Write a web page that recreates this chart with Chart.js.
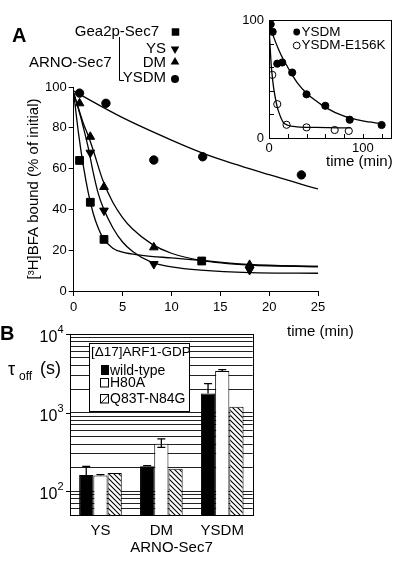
<!DOCTYPE html>
<html>
<head>
<meta charset="utf-8">
<script src="https://cdn.jsdelivr.net/npm/chart.js@4.4.0/dist/chart.umd.min.js"></script>
<style>
  html, body { margin: 0; padding: 0; background: #fff; }
  body { width: 400px; height: 562px; position: relative; overflow: hidden; }
  canvas { position: absolute; }
  #mainA { left: 0; top: 0; }
  #inset { left: 230px; top: 0; }
  #panelB { left: 0; top: 320px; }
</style>
</head>
<body>
<canvas id="mainA" width="400" height="345"></canvas>
<canvas id="inset" width="170" height="170"></canvas>
<canvas id="panelB" width="265" height="242"></canvas>
<script>
// ---- panel A, main plot: [3H]BFA bound (% of initial) vs time (min)
const gea2pTime = [0.6, 1.7, 3.1, 13.1];
const gea2pVal = [64, 43.5, 25.3, 14.7];
const ysTime = [1.7, 3.1, 8.2, 18];
const ysVal = [67.8, 39.4, 13.2, 10.3];
const dmTime = [0.6, 1.7, 3.1, 8.2, 18];
const dmVal = [92, 75.6, 51, 21.4, 12.8];
const ysdmTime = [0.6, 3.3, 8.2, 13.2, 23.3];
const ysdmVal = [97, 92, 64.2, 65.8, 56.9];

// fitted curves
const gea2pFitT = [0, 0.5, 1, 1.5, 2, 2.5, 3, 4, 5, 7, 10, 13, 18, 25];
const gea2pFitV = [97, 77, 61, 48, 38, 31, 26, 21, 19, 17.5, 16.2, 15, 13, 12];
const ysFitT = [0, 0.5, 1, 1.5, 2, 2.5, 3, 4, 5, 6, 8, 10, 13, 18, 25];
const ysFitV = [97, 89, 80, 70, 58, 48, 41, 31, 24, 19.5, 14, 11.8, 10.2, 9, 8.7];
const dmFitT = [0, 1, 1.5, 2, 3, 4, 5, 6, 8, 10, 13, 18, 25];
const dmFitV = [97, 82, 76, 69, 54, 43.5, 36, 30.5, 23, 18.5, 15, 12.7, 12];
const ysdmFitT = [0, 5, 10, 13, 15, 20, 25];
const ysdmFitV = [98, 85, 74, 68, 64.5, 57, 50];

// ---- panel A, inset
const insetYsdmTime = [1.8, 3.9, 8.8, 14.1, 24.7, 40, 60, 86, 120];
const insetYsdmVal = [96.4, 90, 63, 64, 55.5, 37, 27.3, 15.5, 11];
const insetE156kTime = [3.5, 8.8, 18.7, 40, 70, 85];
const insetE156kVal = [53.5, 28.7, 11.2, 9, 6.8, 6];
const insetYsdmFitT = [0, 5, 10, 15, 20, 25, 30, 40, 50, 60, 80, 100, 120];
const insetYsdmFitV = [97, 85.5, 75.5, 67, 60, 53, 47, 38, 31.5, 26, 18.5, 14.5, 12.2];
const insetE156kFitT = [0, 1, 2, 3, 5, 8, 10, 15, 20, 30, 50, 87];
const insetE156kFitV = [97, 80, 66, 56, 42, 29, 23, 13.5, 10.8, 9.5, 9, 8.5];
const insetXTicks = [20, 40, 60, 80, 100, 120];
const insetYTicks = [20, 40, 60, 80];

// ---- panel B: tau_off (s), log scale
const bCategories = ["YS", "DM", "YSDM"];
const wildType = [162, 209, 1755];
const h80a = [159, 402, 3404];
const q83t = [171, 194, 1191];
const wildTypeErrHi = [207, 212, 2350];
const h80aErrHi = [163, 465, 3550];
const h80aErrLo = [null, 363, null];
const bMajorTicks = [100, 1000, 10000];

const FONT = "'Liberation Sans', Arial, sans-serif";
const black = "#000";
Chart.defaults.font.family = FONT;
Chart.defaults.color = black;

const pts = (xs, ys) => xs.map((x, i) => ({ x: x, y: ys[i] }));

function markers(label, xs, ys, style, rot, r, fill) {
  return {
    label: label,
    data: pts(xs, ys),
    showLine: false,
    pointStyle: style,
    pointRotation: rot,
    pointRadius: r,
    pointBackgroundColor: fill || black,
    pointBorderColor: black,
    pointBorderWidth: 1
  };
}

function curve(label, xs, ys) {
  return {
    label: label,
    data: pts(xs, ys),
    showLine: true,
    pointRadius: 0,
    borderColor: black,
    borderWidth: 1.3,
    cubicInterpolationMode: "monotone",
    fill: false
  };
}

// ---------- panel A main
const annotA = {
  id: "annotA",
  afterDraw(chart) {
    const ctx = chart.ctx;
    ctx.save();
    ctx.fillStyle = black;
    ctx.strokeStyle = black;
    ctx.textBaseline = "middle";
    ctx.textAlign = "left";
    ctx.font = "bold 20px " + FONT;
    ctx.fillText("A", 12, 36);

    ctx.font = "15px " + FONT;
    ctx.textAlign = "right";
    ctx.fillText("Gea2p-Sec7", 159, 32);
    ctx.fillText("YS", 166, 49);
    ctx.fillText("DM", 166, 63);
    ctx.fillText("YSDM", 166, 78);
    ctx.textAlign = "left";
    ctx.fillText("ARNO-Sec7", 29, 63);
    ctx.fillText("time (min)", 287, 332);

    // bracket
    ctx.lineWidth = 1;
    ctx.beginPath();
    ctx.moveTo(119.5, 37);
    ctx.lineTo(119.5, 80.5);
    ctx.lineTo(124, 80.5);
    ctx.stroke();

    const mk = (style, rot, r, x, y) =>
      Chart.helpers.drawPoint(ctx, { pointStyle: style, rotation: rot, radius: r, borderWidth: 0 }, x, y);
    mk("rect", 0, 5.3, 175.5, 32);
    mk("triangle", 180, 5, 175, 49);
    mk("triangle", 0, 5, 175, 62);
    mk("circle", 0, 4, 175, 79);
    ctx.restore();
  }
};

new Chart(document.getElementById("mainA"), {
  type: "scatter",
  data: {
    datasets: [
      curve("Gea2p fit", gea2pFitT, gea2pFitV),
      curve("YS fit", ysFitT, ysFitV),
      curve("DM fit", dmFitT, dmFitV),
      curve("YSDM fit", ysdmFitT, ysdmFitV),
      markers("Gea2p-Sec7", gea2pTime, gea2pVal, "rect", 0, 5.5),
      markers("YS", ysTime, ysVal, "triangle", 180, 5),
      markers("DM", dmTime, dmVal, "triangle", 0, 5),
      markers("YSDM", ysdmTime, ysdmVal, "circle", 0, 4.2)
    ]
  },
  options: {
    responsive: false,
    animation: false,
    events: [],
    layout: { padding: { left: 25, top: 87, right: 82, bottom: 0 } },
    plugins: { legend: { display: false }, tooltip: { enabled: false } },
    scales: {
      x: {
        type: "linear",
        min: 0,
        max: 25,
        ticks: { stepSize: 5, padding: 4, font: { size: 13 }, color: black, maxRotation: 0 },
        grid: { drawOnChartArea: false, color: black, tickLength: 5 },
        border: { color: black, width: 1 },
        afterFit: (s) => { s.height = 54; }
      },
      y: {
        min: 0,
        max: 100,
        ticks: { stepSize: 20, padding: 2, font: { size: 13 }, color: black },
        grid: { drawOnChartArea: false, color: black, tickLength: 5 },
        border: { color: black, width: 1 },
        title: { display: true, text: "[³H]BFA bound (% of initial)", font: { size: 15 }, color: black, padding: 0 },
        afterFit: (s) => { s.width = 48.7; }
      }
    }
  },
  plugins: [annotA]
});

// ---------- panel A inset
const annotInset = {
  id: "annotInset",
  afterDraw(chart) {
    const { ctx, chartArea: a, scales } = chart;
    ctx.save();
    ctx.strokeStyle = black;
    ctx.fillStyle = black;
    ctx.lineWidth = 1;
    ctx.strokeRect(Math.round(a.left) + 0.5, Math.round(a.top) + 0.5,
      Math.round(a.right - a.left), Math.round(a.bottom - a.top));
    ctx.beginPath();
    insetXTicks.forEach((v) => {
      const px = Math.round(scales.x.getPixelForValue(v)) + 0.5;
      ctx.moveTo(px, a.bottom);
      ctx.lineTo(px, a.bottom - 4);
    });
    insetYTicks.forEach((v) => {
      const py = Math.round(scales.y.getPixelForValue(v)) + 0.5;
      ctx.moveTo(a.left, py);
      ctx.lineTo(a.left + 5, py);
    });
    ctx.stroke();

    // legend
    Chart.helpers.drawPoint(ctx, { pointStyle: "circle", radius: 3.4, borderWidth: 0 }, 66.7, 32);
    ctx.fillStyle = "#fff";
    Chart.helpers.drawPoint(ctx, { pointStyle: "circle", radius: 3.4, borderWidth: 1 }, 66.7, 45.5);
    ctx.fillStyle = black;
    ctx.textBaseline = "middle";
    ctx.textAlign = "left";
    ctx.font = "13.5px " + FONT;
    ctx.fillText("YSDM", 71.5, 32);
    ctx.fillText("YSDM-E156K", 71.5, 45.5);
    ctx.font = "15px " + FONT;
    ctx.fillText("time (min)", 96, 162);
    ctx.restore();
  }
};

new Chart(document.getElementById("inset"), {
  type: "scatter",
  data: {
    datasets: [
      curve("YSDM fit", insetYsdmFitT, insetYsdmFitV),
      curve("YSDM-E156K fit", insetE156kFitT, insetE156kFitV),
      markers("YSDM", insetYsdmTime, insetYsdmVal, "circle", 0, 3.6),
      markers("YSDM-E156K", insetE156kTime, insetE156kVal, "circle", 0, 3.6, "#fff")
    ]
  },
  options: {
    responsive: false,
    animation: false,
    events: [],
    layout: { padding: { left: 0, top: 20, right: 9, bottom: 0 } },
    plugins: { legend: { display: false }, tooltip: { enabled: false } },
    scales: {
      x: {
        type: "linear",
        min: 0,
        max: 130,
        ticks: {
          stepSize: 20, padding: 3, font: { size: 13 }, color: black, maxRotation: 0, autoSkip: false,
          callback: (v) => (v === 0 || v === 100 ? String(v) : "")
        },
        grid: { display: false, drawTicks: false },
        border: { display: false },
        afterFit: (s) => { s.height = 32; }
      },
      y: {
        min: 0,
        max: 100,
        ticks: {
          stepSize: 20, padding: 5, font: { size: 13 }, color: black, autoSkip: false,
          callback: (v) => (v === 0 || v === 100 ? String(v) : "")
        },
        grid: { display: false, drawTicks: false },
        border: { display: false },
        afterFit: (s) => { s.width = 39; }
      }
    }
  },
  plugins: [annotInset]
});

// ---------- panel B
const bCtx = document.getElementById("panelB").getContext("2d");
function hatchPattern() {
  const c = document.createElement("canvas");
  c.width = 5;
  c.height = 5;
  const g = c.getContext("2d");
  g.fillStyle = "#fff";
  g.fillRect(0, 0, 5, 5);
  g.strokeStyle = black;
  g.lineWidth = 1.1;
  g.beginPath();
  g.moveTo(0, 0); g.lineTo(5, 5);
  g.moveTo(-1, 4); g.lineTo(1, 6);
  g.moveTo(4, -1); g.lineTo(6, 1);
  g.stroke();
  return bCtx.createPattern(c, "repeat");
}
const hatch = hatchPattern();

// minor log grid lines 50..10000
const bGridVals = [];
for (let e = 1; e <= 3; e++) {
  for (let m = 1; m <= 9; m++) {
    const v = m * Math.pow(10, e);
    if (v >= 50) bGridVals.push(v);
  }
}
bGridVals.push(10000);

const annotB = {
  id: "annotB",
  afterDraw(chart) {
    const { ctx, chartArea: a, scales } = chart;
    ctx.save();
    ctx.strokeStyle = black;
    ctx.fillStyle = black;
    ctx.lineWidth = 1;
    // frame
    ctx.strokeRect(Math.round(a.left) + 0.5, Math.round(a.top) + 0.5,
      Math.round(a.right - a.left), Math.round(a.bottom - a.top));

    // error bars
    const errs = [[wildTypeErrHi, null], [h80aErrHi, h80aErrLo]];
    ctx.lineWidth = 1.3;
    errs.forEach(([hi, lo], i) => {
      chart.getDatasetMeta(i).data.forEach((bar, j) => {
        ctx.beginPath();
        [hi, lo].forEach((arr) => {
          if (!arr || arr[j] == null) return;
          const y = scales.y.getPixelForValue(arr[j]);
          ctx.moveTo(bar.x, bar.y);
          ctx.lineTo(bar.x, y);
          ctx.moveTo(bar.x - 4, y);
          ctx.lineTo(bar.x + 4, y);
        });
        ctx.stroke();
      });
    });

    // major ticks and 10^n labels
    ctx.lineWidth = 1;
    ctx.textBaseline = "middle";
    bMajorTicks.forEach((v) => {
      const y = Math.round(scales.y.getPixelForValue(v)) + 0.5;
      ctx.beginPath();
      ctx.moveTo(a.left - 4, y);
      ctx.lineTo(a.left, y);
      ctx.stroke();
      const exp = String(Math.round(Math.log10(v)));
      ctx.font = "11px " + FONT;
      ctx.textAlign = "right";
      ctx.fillText(exp, 63.5, y - 5);
      const ew = ctx.measureText(exp).width;
      ctx.font = "16px " + FONT;
      ctx.fillText("10", 63.5 - ew, y + 3);
    });

    // panel letter, axis labels
    ctx.textAlign = "left";
    ctx.font = "bold 20px " + FONT;
    ctx.fillText("B", 0, 14);
    ctx.font = "18px " + FONT;
    ctx.fillText("τ", 8, 50);
    ctx.fillText("(s)", 40, 49);
    ctx.font = "12px " + FONT;
    ctx.fillText("off", 19, 57);
    ctx.font = "15px " + FONT;
    ctx.textAlign = "center";
    ctx.fillText("ARNO-Sec7", 171.5, 228);

    // legend box
    ctx.fillStyle = "#fff";
    ctx.fillRect(89.5, 23.5, 100, 68);
    ctx.strokeRect(89.5, 23.5, 100, 68);
    ctx.fillStyle = black;
    ctx.textAlign = "left";
    ctx.font = "13.5px " + FONT;
    ctx.fillText("[Δ17]ARF1-GDP", 91, 32.5);
    ctx.font = "14px " + FONT;
    ctx.fillRect(101, 45, 8, 10);
    ctx.fillText("wild-type", 110, 51.5);
    ctx.strokeRect(100.5, 58.5, 8, 8.5);
    ctx.fillText("H80A", 110, 63);
    ctx.strokeRect(100.5, 74.5, 8, 8.5);
    ctx.beginPath();
    ctx.moveTo(101, 83);
    ctx.lineTo(108.5, 75);
    ctx.stroke();
    ctx.fillText("Q83T-N84G", 110, 79);
    ctx.restore();
  }
};

new Chart(bCtx, {
  type: "bar",
  data: {
    labels: bCategories,
    datasets: [
      { label: "wild-type", data: wildType, backgroundColor: black, borderColor: black, borderWidth: 1 },
      { label: "H80A", data: h80a, backgroundColor: "#fff", borderColor: black, borderWidth: 1 },
      { label: "Q83T-N84G", data: q83t, backgroundColor: hatch, borderColor: black, borderWidth: 1 }
    ]
  },
  options: {
    responsive: false,
    animation: false,
    events: [],
    layout: { padding: { left: 0, top: 13.3, right: 12.3, bottom: 0 } },
    plugins: { legend: { display: false }, tooltip: { enabled: false } },
    datasets: { bar: { categoryPercentage: 0.7, barPercentage: 1.0 } },
    scales: {
      x: {
        ticks: { padding: 7, font: { size: 15 }, color: black, maxRotation: 0 },
        grid: { display: false, drawTicks: false },
        border: { color: black, width: 1 },
        afterFit: (s) => { s.height = 47; }
      },
      y: {
        type: "logarithmic",
        min: 50,
        max: 10000,
        afterBuildTicks: (s) => { s.ticks = bGridVals.map((v) => ({ value: v })); },
        ticks: { autoSkip: false, padding: 7, callback: () => "" },
        grid: { color: "#222", lineWidth: 1, drawTicks: false },
        border: { color: black, width: 1 },
        afterFit: (s) => { s.width = 70; }
      }
    }
  },
  plugins: [annotB]
});
</script>
</body>
</html>
